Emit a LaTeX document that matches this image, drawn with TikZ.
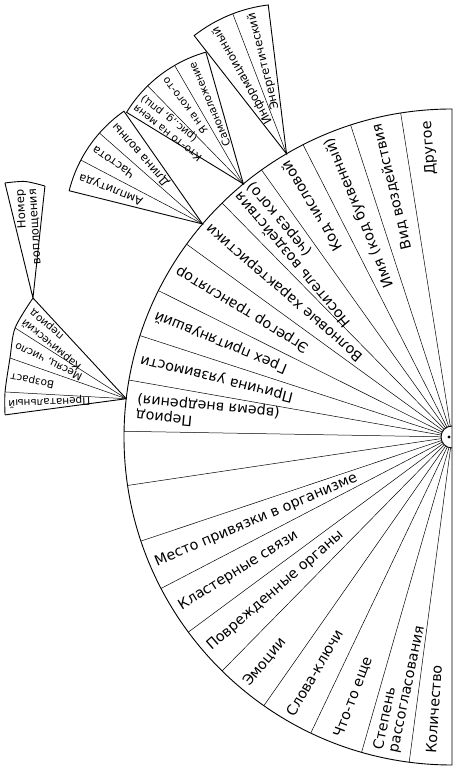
\documentclass[tikz,border=0pt]{standalone}
\usepackage{fontspec}
\setmainfont{DejaVu Sans}
\usetikzlibrary{calc}

\begin{document}
\begin{tikzpicture}[
    x=1pt,
    y=1pt,
    rim/.style={line width=0.9pt},
    spoke/.style={line width=0.5pt},
    mainlab/.style={font=\fontsize{14.3}{15.5}\selectfont},
    sublab/.style={font=\fontsize{11.5}{12.5}\selectfont},
    tinylab/.style={font=\fontsize{10.5}{12.3}\selectfont},
    outlab/.style={rotate=#1, anchor=east, align=right, inner sep=1pt},
    inlab/.style={rotate=#1-180, anchor=west, align=left, inner sep=1pt}
]
\useasboundingbox (0,0) rectangle (456,769);

% Centre of the big fan
\coordinate (C) at (452,332);

% Big fan
\draw[rim] ($(C)+(0,328)$) arc[start angle=90, end angle=270, radius=328] -- cycle;
\draw[rim] ($(C)+(0,11)$) arc[start angle=90, end angle=270, radius=11];
\fill ($(C)+(-3,0)$) circle (1.6);
\foreach \a in {99,108,117,125.5,134.5,144,153.5,162,170,179,
                188.5,198.5,207.5,216.5,225.5,235,244.5,254,262.5}
    \draw[spoke] ($(C)+(\a:11)$) -- ($(C)+(\a:328)$);

% Upper half, text runs outwards
\node[mainlab,outlab=94.5]  (other)  at ($(C)+(94.5:318)$)  {Другое};
\node[mainlab,outlab=103.5] (kind)   at ($(C)+(103.5:323)$) {Вид воздействия};
\node[mainlab,outlab=112.5] (name)   at ($(C)+(112.5:324)$) {Имя (код буквенный)};
\node[mainlab,outlab=121.2] (code)   at ($(C)+(121.2:323)$) {Код числовой};
\node[mainlab,outlab=130]   (carrier) at ($(C)+(130:325)$)  {Носитель воздействия\\(через кого)};
\node[mainlab,outlab=139.2] (wave)   at ($(C)+(139.2:323)$) {Волновые характеристики};
\node[mainlab,outlab=148.7] (egr)    at ($(C)+(148.7:323)$) {Эгрегор транслятор};
\node[mainlab,outlab=157.7] (sin)    at ($(C)+(157.7:322)$) {Грех притянувший};
\node[mainlab,outlab=166]   (cause)  at ($(C)+(166:322)$)   {Причина уязвимости};
\node[mainlab,outlab=174.5] (period) at ($(C)+(174.5:318)$) {Период\\(время внедрения)};

% Lower half, text runs inwards
\node[mainlab,inlab=203]   (place)  at ($(C)+(203:323)$)   {Место привязки в организме};
\node[mainlab,inlab=212]   (clust)  at ($(C)+(212:322)$)   {Кластерные связи};
\node[mainlab,inlab=221]   (organs) at ($(C)+(221:323)$)   {Поврежденные органы};
\node[mainlab,inlab=230.2] (emo)    at ($(C)+(230.2:323)$) {Эмоции};
\node[mainlab,inlab=239.7] (keys)   at ($(C)+(239.7:323)$) {Слова-ключи};
\node[mainlab,inlab=249.2] (more)   at ($(C)+(249.2:322)$) {Что-то еще};
\node[mainlab,inlab=258.2] (mism)   at ($(C)+(258.2:322)$) {Степень\\рассогласования};
\node[mainlab,inlab=266.2] (count)  at ($(C)+(266.2:318)$) {Количество};

% Roots of the small fans
\coordinate (fA) at ($(C)+(173.3:328)$);
\coordinate (fC) at ($(C)+(139.5:328)$);
\coordinate (fD) at ($(C)+(129.5:328)$);
\coordinate (fE) at ($(C)+(120.3:328)$);

% Fan on "Период"
\coordinate (a0) at ($(fA)+(187.6:122.3)$);
\coordinate (a1) at ($(fA)+(176.8:121.4)$);
\coordinate (a2) at ($(fA)+(160.7:123.2)$);
\coordinate (a3) at ($(fA)+(147.5:131.8)$);
\coordinate (a4) at ($(fA)+(132.8:137.3)$);
\draw[rim] plot[smooth] coordinates {(a0) (a1) (a2) (a3) (a4)};
\draw[rim] (a0) -- (fA) -- (a4);
\foreach \k in {1,2,3}
    \draw[spoke] (fA) -- (a\k);
\node[tinylab,outlab=182.2] (prenat) at ($(fA)+(182.2:119)$) {Пренатальный};
\node[tinylab,outlab=168.8] (age)    at ($(fA)+(168.8:119)$) {Возраст};
\node[tinylab,outlab=154.1] (date)   at ($(fA)+(154.1:124)$) {Месяц, число};
\node[tinylab,outlab=140.2] (karma)  at ($(fA)+(140.2:130)$) {Кармический\\период};

% Wedge on the top corner
\coordinate (n0) at ($(a4)+(103.7:118.4)$);
\coordinate (n1) at ($(a4)+(93.9:116.8)$);
\coordinate (n2) at ($(a4)+(83.9:112.6)$);
\draw[rim] plot[smooth] coordinates {(n0) (n1) (n2)};
\draw[rim] (n0) -- (a4) -- (n2);
\node[sublab,outlab=93.5] (incarn) at ($(a4)+(93.5:110)$) {Номер\\воплощения};

% Fan on "Волновые характеристики"
\draw[rim] (fC) -- ($(fC)+(166:137.5)$)
    arc[start angle=166, end angle=124.9, radius=137.5] -- cycle;
\draw[spoke] (fC) -- ($(fC)+(152.3:137.5)$);
\draw[spoke] (fC) -- ($(fC)+(138.6:137.5)$);
\node[sublab,outlab=159]   (ampl) at ($(fC)+(159:133)$)   {Амплитуда};
\node[sublab,outlab=145.5] (freq) at ($(fC)+(145.5:134)$) {Частота};
\node[sublab,outlab=131.7] (wlen) at ($(fC)+(131.7:134)$) {Длина волны};

% Fan on "Носитель воздействия"
\draw[rim] (fD) -- ($(fD)+(148.5:137)$)
    arc[start angle=148.5, end angle=105.9, radius=137] -- cycle;
\draw[spoke] (fD) -- ($(fD)+(134.3:137)$);
\draw[spoke] (fD) -- ($(fD)+(120.1:137)$);
\node[tinylab,outlab=142]   (onme)  at ($(fD)+(142:134)$)   {Кто-то на меня\\(рис.,g, рпц)};
\node[tinylab,outlab=126.8] (ionit) at ($(fD)+(126.8:133)$) {Я на кого-то};
\node[tinylab,outlab=113]   (self)  at ($(fD)+(113:133)$)   {Самоналожение};

% Fan on "Код числовой"
\draw[rim] (fE) -- ($(fE)+(128:150)$)
    arc[start angle=128, end angle=97, radius=150] -- cycle;
\draw[spoke] (fE) -- ($(fE)+(111:150)$);
\node[sublab,outlab=119.5] (info)   at ($(fE)+(119.5:146)$) {Информационный};
\node[sublab,outlab=104]   (energy) at ($(fE)+(104:146)$)   {Энергетический};

\end{tikzpicture}
\end{document}
